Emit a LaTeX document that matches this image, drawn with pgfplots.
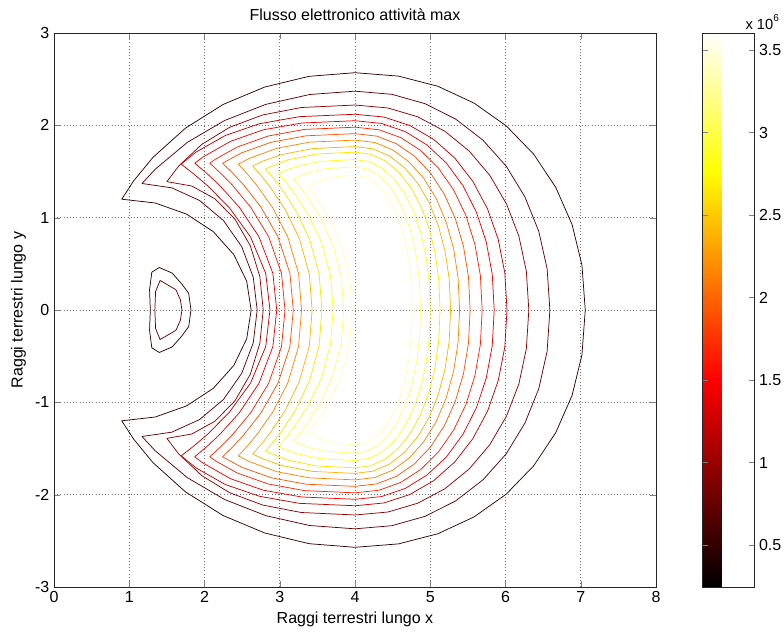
\documentclass[border=0pt]{standalone}
\usepackage{fontspec}
\setmainfont{Liberation Sans}
\usepackage{pgfplots}
\pgfplotsset{compat=1.18}
\definecolor{c1}{rgb}{0.19,0,0}
\definecolor{c2}{rgb}{0.38,0,0}
\definecolor{c3}{rgb}{0.57,0,0}
\definecolor{c4}{rgb}{0.76,0,0}
\definecolor{c5}{rgb}{0.95,0,0}
\definecolor{c6}{rgb}{1,0.14,0}
\definecolor{c7}{rgb}{1,0.33,0}
\definecolor{c8}{rgb}{1,0.52,0}
\definecolor{c9}{rgb}{1,0.71,0}
\definecolor{c10}{rgb}{1,0.90,0}
\definecolor{c11}{rgb}{1,1,0.14}
\definecolor{c12}{rgb}{1,1,0.43}
\definecolor{c13}{rgb}{1,1,0.71}
\begin{document}
\begin{tikzpicture}
\useasboundingbox (-40.5pt,-39pt) rectangle (547.5pt,440.25pt);
\begin{axis}[
  name=main, at={(0pt,0pt)}, anchor=south west,
  scale only axis, width=451.5pt, height=415.5pt,
  xmin=0, xmax=8, ymin=-3, ymax=3,
  xtick={0,1,...,8}, ytick={-3,-2,...,3},
  /pgf/number format/assume math mode=true,
  tick label style={font=\fontsize{12}{14}\selectfont},
  label style={font=\fontsize{12}{14}\selectfont},
  title style={font=\fontsize{12}{14}\selectfont},
  title={Flusso elettronico attività max},
  xlabel={Raggi terrestri lungo x},
  ylabel={Raggi terrestri lungo y},
  grid=major, grid style={dotted, black!55, line width=0.5pt},
  tick align=inside, major tick length=4.5pt,
  axis line style={line width=0.5pt, black!85},
  every axis plot/.append style={line width=0.55pt, no markers, line join=round},
  colormap={mhot}{rgb(0pt)=(0,0,0); rgb(3pt)=(1,0,0); rgb(6pt)=(1,1,0); rgb(8pt)=(1,1,1)},
  point meta min=0.246, point meta max=3.603,
  colorbar,
  colorbar style={
    at={(parent axis.north east)}, anchor=north west, xshift=26.25pt,
    width=39pt,
    ytick={0.5,1,...,3.5},
    yticklabel style={font=\fontsize{12}{14}\selectfont},
    /pgf/number format/assume math mode=true,
    tick align=inside, major tick length=4pt,
    yticklabel pos=right, ytick pos=both,
    axis line style={line width=0.5pt, black!85},
  },
]
% lobe
\addplot[c1] coordinates {(1.82,0) (1.79,0.18) (1.70,0.28) (1.57,0.40) (1.40,0.46) (1.30,0.41) (1.27,0.22) (1.28,0) (1.27,-0.22) (1.30,-0.41) (1.40,-0.46) (1.57,-0.40) (1.70,-0.28) (1.79,-0.18) (1.82,0)};
\addplot[c2] coordinates {(1.70,0) (1.68,0.11) (1.62,0.22) (1.41,0.32) (1.35,0.20) (1.34,0) (1.35,-0.20) (1.41,-0.32) (1.62,-0.22) (1.68,-0.11) (1.70,0)};
% L1
\addplot[c1] coordinates {(2.62,0) (2.561,0.311) (2.39,0.6) (2.116,0.849) (1.76,1.039) (1.345,1.159) (0.9,1.2) (1.06,1.4) (1.314,1.652) (1.746,1.969) (2.247,2.226) (2.801,2.415) (3.391,2.531) (4,2.57) (4.579,2.533) (5.102,2.423) (5.582,2.241) (6.01,1.994) (6.374,1.688) (6.668,1.328) (6.885,0.925) (7.016,0.486) (7.06,0) (7.016,-0.486) (6.885,-0.925) (6.668,-1.328) (6.374,-1.688) (6.01,-1.994) (5.582,-2.241) (5.102,-2.423) (4.579,-2.533) (4,-2.57) (3.391,-2.531) (2.801,-2.415) (2.247,-2.226) (1.746,-1.969) (1.314,-1.652) (1.06,-1.4) (0.9,-1.2) (1.345,-1.159) (1.76,-1.039) (2.116,-0.849) (2.39,-0.6) (2.561,-0.311) (2.62,0)};
% L2
\addplot[c2] coordinates {(2.7,0) (2.648,0.355) (2.495,0.685) (2.252,0.969) (1.935,1.186) (1.566,1.323) (1.17,1.37) (1.343,1.523) (1.771,1.815) (2.266,2.052) (2.814,2.227) (3.398,2.334) (4,2.37) (4.49,2.336) (4.933,2.234) (5.339,2.067) (5.701,1.839) (6.01,1.557) (6.258,1.225) (6.442,0.853) (6.553,0.448) (6.59,0) (6.553,-0.448) (6.442,-0.853) (6.258,-1.225) (6.01,-1.557) (5.701,-1.839) (5.339,-2.067) (4.933,-2.234) (4.49,-2.336) (4,-2.37) (3.398,-2.334) (2.814,-2.227) (2.266,-2.052) (1.771,-1.815) (1.343,-1.523) (1.17,-1.37) (1.566,-1.323) (1.935,-1.186) (2.252,-0.969) (2.495,-0.685) (2.648,-0.355) (2.7,0)};
% L3
\addplot[c3] coordinates {(2.78,0) (2.736,0.36) (2.609,0.695) (2.405,0.983) (2.14,1.204) (1.831,1.343) (1.5,1.39) (1.657,1.559) (1.964,1.794) (2.335,1.979) (2.771,2.112) (3.285,2.193) (4,2.22) (4.437,2.188) (4.832,2.093) (5.194,1.936) (5.517,1.722) (5.792,1.458) (6.014,1.148) (6.178,0.799) (6.277,0.42) (6.31,0) (6.277,-0.42) (6.178,-0.799) (6.014,-1.148) (5.792,-1.458) (5.517,-1.722) (5.194,-1.936) (4.832,-2.093) (4.437,-2.188) (4,-2.22) (3.285,-2.193) (2.771,-2.112) (2.335,-1.979) (1.964,-1.794) (1.657,-1.559) (1.5,-1.39) (1.831,-1.343) (2.14,-1.204) (2.405,-0.983) (2.609,-0.695) (2.736,-0.36) (2.78,0)};
% L4
\addplot[c4] coordinates {(2.87,0) (2.814,0.395) (2.613,0.79) (2.332,1.106) (2.045,1.343) (1.864,1.469) (1.69,1.58) (1.893,1.713) (2.277,1.89) (2.728,2.017) (3.261,2.094) (4,2.12) (4.382,2.09) (4.727,1.999) (5.044,1.849) (5.327,1.645) (5.567,1.392) (5.761,1.096) (5.904,0.763) (5.991,0.401) (6.02,0) (5.991,-0.401) (5.904,-0.763) (5.761,-1.096) (5.567,-1.392) (5.327,-1.645) (5.044,-1.849) (4.727,-1.999) (4.382,-2.09) (4,-2.12) (3.261,-2.094) (2.728,-2.017) (2.277,-1.89) (1.893,-1.713) (1.69,-1.58) (1.864,-1.469) (2.045,-1.343) (2.332,-1.106) (2.613,-0.79) (2.814,-0.395) (2.87,0)};
% L5
\addplot[c5] coordinates {(2.96,0) (2.908,0.398) (2.723,0.795) (2.463,1.113) (2.198,1.352) (2.031,1.479) (1.87,1.59) (1.978,1.656) (2.346,1.827) (2.779,1.951) (3.29,2.025) (4,2.05) (4.35,2.021) (4.666,1.933) (4.956,1.788) (5.215,1.591) (5.435,1.346) (5.613,1.06) (5.744,0.738) (5.824,0.388) (5.85,0) (5.824,-0.388) (5.744,-0.738) (5.613,-1.06) (5.435,-1.346) (5.215,-1.591) (4.956,-1.788) (4.666,-1.933) (4.35,-2.021) (4,-2.05) (3.29,-2.025) (2.779,-1.951) (2.346,-1.827) (1.978,-1.656) (1.87,-1.59) (2.031,-1.479) (2.198,-1.352) (2.463,-1.113) (2.723,-0.795) (2.908,-0.398) (2.96,0)};
% L6
\addplot[c6] coordinates {(3.07,0) (3.023,0.398) (2.852,0.795) (2.614,1.113) (2.371,1.352) (2.218,1.479) (2.07,1.59) (2.151,1.636) (2.435,1.765) (2.845,1.884) (3.329,1.956) (4,1.98) (4.32,1.952) (4.609,1.867) (4.874,1.727) (5.11,1.536) (5.311,1.3) (5.474,1.023) (5.593,0.713) (5.666,0.375) (5.69,0) (5.666,-0.375) (5.593,-0.713) (5.474,-1.023) (5.311,-1.3) (5.11,-1.536) (4.874,-1.727) (4.609,-1.867) (4.32,-1.952) (4,-1.98) (3.329,-1.956) (2.845,-1.884) (2.435,-1.765) (2.151,-1.636) (2.07,-1.59) (2.218,-1.479) (2.371,-1.352) (2.614,-1.113) (2.852,-0.795) (3.023,-0.398) (3.07,0)};
% L7
\addplot[c7] coordinates {(3.18,0) (3.135,0.398) (2.975,0.795) (2.751,1.113) (2.523,1.352) (2.379,1.479) (2.24,1.59) (2.492,1.702) (2.887,1.817) (3.353,1.887) (4,1.91) (4.289,1.883) (4.551,1.801) (4.791,1.666) (5.005,1.482) (5.187,1.254) (5.334,0.987) (5.442,0.688) (5.508,0.361) (5.53,0) (5.508,-0.361) (5.442,-0.688) (5.334,-0.987) (5.187,-1.254) (5.005,-1.482) (4.791,-1.666) (4.551,-1.801) (4.289,-1.883) (4,-1.91) (3.353,-1.887) (2.887,-1.817) (2.492,-1.702) (2.24,-1.59) (2.379,-1.479) (2.523,-1.352) (2.751,-1.113) (2.975,-0.795) (3.135,-0.398) (3.18,0)};
% L8
\addplot[c8] coordinates {(3.29,0) (3.25,0.395) (3.107,0.79) (2.907,1.106) (2.702,1.343) (2.574,1.469) (2.45,1.58) (2.59,1.64) (2.959,1.751) (3.395,1.818) (4,1.84) (4.263,1.814) (4.501,1.735) (4.718,1.604) (4.913,1.428) (5.079,1.209) (5.212,0.951) (5.311,0.663) (5.37,0.348) (5.39,0) (5.37,-0.348) (5.311,-0.663) (5.212,-0.951) (5.079,-1.209) (4.913,-1.428) (4.718,-1.604) (4.501,-1.735) (4.263,-1.814) (4,-1.84) (3.395,-1.818) (2.959,-1.751) (2.59,-1.64) (2.45,-1.58) (2.574,-1.469) (2.702,-1.343) (2.907,-1.106) (3.107,-0.79) (3.25,-0.395) (3.29,0)};
% L9
\addplot[c9] coordinates {(3.43,0) (3.393,0.39) (3.258,0.78) (3.07,1.092) (2.877,1.326) (2.757,1.451) (2.64,1.56) (2.78,1.614) (3.028,1.684) (3.435,1.748) (4,1.77) (4.24,1.745) (4.457,1.669) (4.656,1.543) (4.834,1.373) (4.985,1.163) (5.107,0.915) (5.197,0.637) (5.252,0.335) (5.27,0) (5.252,-0.335) (5.197,-0.637) (5.107,-0.915) (4.985,-1.163) (4.834,-1.373) (4.656,-1.543) (4.457,-1.669) (4.24,-1.745) (4,-1.77) (3.435,-1.748) (3.028,-1.684) (2.78,-1.614) (2.64,-1.56) (2.757,-1.451) (2.877,-1.326) (3.07,-1.092) (3.258,-0.78) (3.393,-0.39) (3.43,0)};
% L10
\addplot[c10] coordinates {(3.56,0) (3.524,0.383) (3.397,0.765) (3.218,1.071) (3.035,1.301) (2.921,1.423) (2.81,1.53) (3.112,1.627) (3.484,1.689) (4,1.71) (4.214,1.686) (4.407,1.612) (4.584,1.491) (4.742,1.327) (4.877,1.123) (4.985,0.884) (5.065,0.616) (5.114,0.324) (5.13,0) (5.114,-0.324) (5.065,-0.616) (4.985,-0.884) (4.877,-1.123) (4.742,-1.327) (4.584,-1.491) (4.407,-1.612) (4.214,-1.686) (4,-1.71) (3.484,-1.689) (3.112,-1.627) (2.81,-1.53) (2.921,-1.423) (3.035,-1.301) (3.218,-1.071) (3.397,-0.765) (3.524,-0.383) (3.56,0)};
% L11
\addplot[c11] coordinates {(3.71,0) (3.675,0.37) (3.551,0.74) (3.377,1.036) (3.199,1.258) (3.088,1.376) (2.98,1.48) (3.2,1.551) (3.535,1.61) (4,1.63) (4.189,1.607) (4.36,1.537) (4.517,1.421) (4.657,1.265) (4.776,1.071) (4.872,0.843) (4.943,0.587) (4.986,0.308) (5,0) (4.986,-0.308) (4.943,-0.587) (4.872,-0.843) (4.776,-1.071) (4.657,-1.265) (4.517,-1.421) (4.36,-1.537) (4.189,-1.607) (4,-1.63) (3.535,-1.61) (3.2,-1.551) (2.98,-1.48) (3.088,-1.376) (3.199,-1.258) (3.377,-1.036) (3.551,-0.74) (3.675,-0.37) (3.71,0)};
% L12
\addplot[c12] coordinates {(3.85,0) (3.818,0.355) (3.704,0.71) (3.544,0.994) (3.381,1.207) (3.279,1.321) (3.18,1.42) (3.386,1.489) (3.613,1.531) (4,1.55) (4.165,1.528) (4.313,1.461) (4.45,1.352) (4.571,1.203) (4.675,1.018) (4.759,0.801) (4.82,0.558) (4.858,0.293) (4.87,0) (4.858,-0.293) (4.82,-0.558) (4.759,-0.801) (4.675,-1.018) (4.571,-1.203) (4.45,-1.352) (4.313,-1.461) (4.165,-1.528) (4,-1.55) (3.613,-1.531) (3.386,-1.489) (3.18,-1.42) (3.279,-1.321) (3.381,-1.207) (3.544,-0.994) (3.704,-0.71) (3.818,-0.355) (3.85,0)};
% L13
\addplot[c13] coordinates {(3.96,0) (3.933,0.333) (3.834,0.665) (3.695,0.931) (3.554,1.131) (3.466,1.237) (3.38,1.33) (3.546,1.402) (3.714,1.442) (4,1.46) (4.144,1.439) (4.274,1.376) (4.393,1.273) (4.499,1.133) (4.59,0.959) (4.663,0.755) (4.717,0.526) (4.749,0.276) (4.76,0) (4.749,-0.276) (4.717,-0.526) (4.663,-0.755) (4.59,-0.959) (4.499,-1.133) (4.393,-1.273) (4.274,-1.376) (4.144,-1.439) (4,-1.46) (3.714,-1.442) (3.546,-1.402) (3.38,-1.33) (3.466,-1.237) (3.554,-1.131) (3.695,-0.931) (3.834,-0.665) (3.933,-0.333) (3.96,0)};
\end{axis}
\node[anchor=west, inner sep=0pt, font=\fontsize{11}{13}\selectfont] at ([xshift=67pt, yshift=8pt]main.north east) {x 10\raisebox{0.55em}{\fontsize{7.5}{8}\selectfont 6}};
\end{tikzpicture}
\end{document}
